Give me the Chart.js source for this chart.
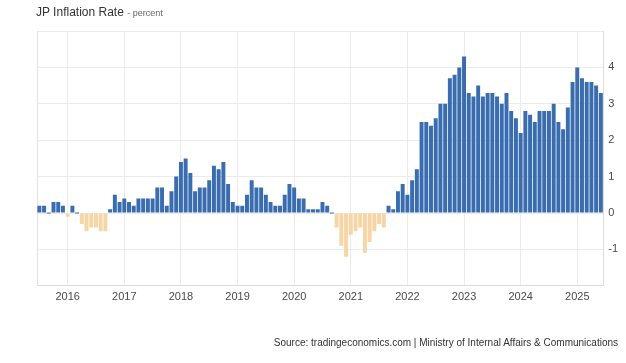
<!DOCTYPE html>
<html>
<head>
<meta charset="utf-8">
<script src="https://cdn.jsdelivr.net/npm/chart.js@4.4.1/dist/chart.umd.min.js"></script>
<style>
  body { margin: 0; background: #fff; font-family: "Liberation Sans", Arial, sans-serif; }
  #wrap { position: relative; width: 626px; height: 363px; }
  #chart { position: absolute; left: 0; top: 0; }
  #title { position: absolute; left: 36px; top: 5px; font-size: 12px; color: #333; white-space: nowrap; }
  #title span { font-size: 9px; color: #666; }
  #source { position: absolute; right: 8px; top: 337px; font-size: 10px; color: #333; white-space: nowrap; }
</style>
</head>
<body>
<div id="wrap">
  <canvas id="chart" width="626" height="363"></canvas>
  <div id="title">JP Inflation Rate <span>- percent</span></div>
  <div id="source">Source: tradingeconomics.com | Ministry of Internal Affairs &amp; Communications</div>
</div>
<script>
document.addEventListener("DOMContentLoaded", function () {
  // yearly CPI YoY values, %  (2015 starts in July, 2025 ends in June)
  const firstMonth2015 = 7;
  const y2015 = [0.2, 0.2, 0.0, 0.3, 0.3, 0.2];
  const y2016 = [-0.1, 0.2, 0.0, -0.3, -0.5, -0.4, -0.4, -0.5, -0.5, 0.1, 0.5, 0.3];
  const y2017 = [0.4, 0.3, 0.2, 0.4, 0.4, 0.4, 0.4, 0.7, 0.7, 0.2, 0.6, 1.0];
  const y2018 = [1.4, 1.5, 1.1, 0.6, 0.7, 0.7, 0.9, 1.3, 1.2, 1.4, 0.8, 0.3];
  const y2019 = [0.2, 0.2, 0.5, 0.9, 0.7, 0.7, 0.5, 0.3, 0.2, 0.2, 0.5, 0.8];
  const y2020 = [0.7, 0.4, 0.4, 0.1, 0.1, 0.1, 0.3, 0.2, 0.0, -0.4, -0.9, -1.2];
  const y2021 = [-0.6, -0.5, -0.4, -1.1, -0.8, -0.5, -0.3, -0.4, 0.2, 0.1, 0.6, 0.8];
  const y2022 = [0.5, 0.9, 1.2, 2.5, 2.5, 2.4, 2.6, 3.0, 3.0, 3.7, 3.8, 4.0];
  const y2023 = [4.3, 3.3, 3.2, 3.5, 3.2, 3.3, 3.3, 3.2, 3.0, 3.3, 2.8, 2.6];
  const y2024 = [2.2, 2.8, 2.7, 2.5, 2.8, 2.8, 2.8, 3.0, 2.5, 2.3, 2.9, 3.6];
  const y2025 = [4.0, 3.7, 3.6, 3.6, 3.5, 3.3];

  const yearTicks = [-2, -1, 0, 1, 2, 3, 4, 5];
  const hiddenTicks = [-2, 5];

  const years = [2015, 2016, 2017, 2018, 2019, 2020, 2021, 2022, 2023, 2024, 2025];
  const byYear = [y2015, y2016, y2017, y2018, y2019, y2020, y2021, y2022, y2023, y2024, y2025];

  const labels = [];
  const values = [];
  byYear.forEach((arr, i) => {
    const start = i === 0 ? firstMonth2015 : 1;
    arr.forEach((v, j) => {
      labels.push(years[i] + '-' + String(start + j).padStart(2, '0'));
      values.push(v);
    });
  });

  const colors = values.map(v => v < 0 ? '#f7d5a4' : '#3a6db0');
  const gridColor = '#ebebeb';

  new Chart(document.getElementById('chart'), {
    type: 'bar',
    data: {
      labels,
      datasets: [{
        data: values,
        backgroundColor: colors,
        borderWidth: 0,
        barPercentage: 0.84,
        categoryPercentage: 1,
        minBarLength: 1
      }]
    },
    options: {
      responsive: false,
      animation: false,
      layout: { padding: { left: 37, top: 31, right: 3, bottom: 54 } },
      plugins: {
        legend: { display: false },
        tooltip: { enabled: false }
      },
      scales: {
        x: {
          grid: {
            offset: false,
            drawTicks: false,
            color: (ctx) => {
              const l = labels[ctx.index];
              return l && l.endsWith('-01') ? gridColor : 'transparent';
            }
          },
          border: { color: '#dddddd' },
          ticks: {
            autoSkip: false,
            maxRotation: 0,
            padding: 5,
            color: '#4a4a4a',
            font: { family: 'Liberation Sans', size: 11 },
            callback: (v, i) => labels[i].endsWith('-01') ? labels[i].slice(0, 4) : ''
          }
        },
        y: {
          position: 'right',
          min: -2,
          max: 5,
          afterBuildTicks: (axis) => { axis.ticks = yearTicks.map(v => ({ value: v })); },
          grid: { color: gridColor, drawTicks: false },
          border: { color: '#dddddd' },
          ticks: {
            padding: 5,
            color: '#4a4a4a',
            font: { family: 'Liberation Sans', size: 11 },
            callback: (v) => hiddenTicks.includes(v) ? '' : v
          }
        },
        yl: {
          position: 'left',
          display: true,
          grid: { display: false, drawTicks: false },
          border: { color: '#e3e3e3' },
          ticks: { display: false }
        }
      }
    }
  });
});
</script>
</body>
</html>
